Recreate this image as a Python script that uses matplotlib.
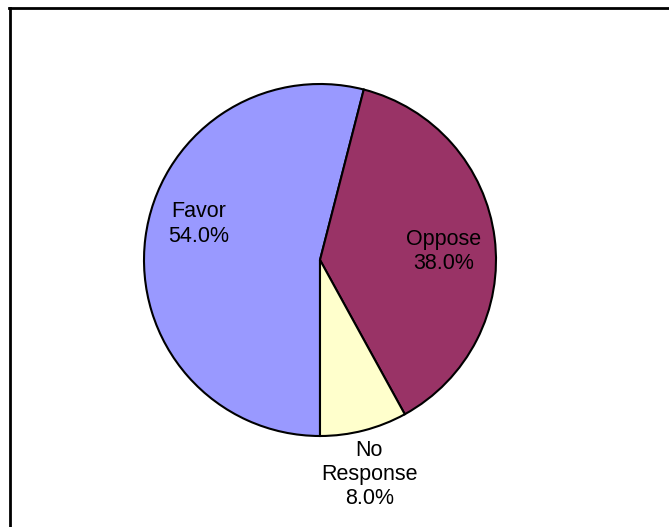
import matplotlib
matplotlib.use("Agg")
import matplotlib.pyplot as plt
from matplotlib.lines import Line2D

categories = ["Favor", "Oppose", "No\nResponse"]
values = [54.0, 38.0, 8.0]
colors = ["#9999FF", "#993366", "#FFFFCC"]
label_pos = [(-0.69, 0.205), (0.70, 0.05), (0.28, -1.22)]

plt.rcParams['font.family'] = ['Liberation Sans', 'DejaVu Sans']

fig = plt.figure(figsize=(6.69, 5.27), dpi=100)
ax = fig.add_axes([0, 0, 1, 1])
wedges, _ = ax.pie(values, colors=colors, startangle=-90, counterclock=False,
                   radius=1.0, center=(0, 0),
                   wedgeprops=dict(edgecolor="black", linewidth=1.5))
for cat, v, (x, y) in zip(categories, values, label_pos):
    ax.text(x, y, f"{cat}\n{v:.1f}%", ha="center", va="center",
            fontsize=15.5, color="black", linespacing=1.2)

ax.set_xlim(-320/176, (669-320)/176)
ax.set_ylim((260-527)/176, 260/176)
ax.set_aspect("auto")
ax.axis("off")

# chart area border (top and left visible)
fig.add_artist(Line2D([9/669, 1.0], [1-8/527, 1-8/527], color="black", lw=2,
                      transform=fig.transFigure))
fig.add_artist(Line2D([10/669, 10/669], [1-8/527, 0], color="black", lw=2,
                      transform=fig.transFigure))

fig.savefig("out.png", dpi=100)
